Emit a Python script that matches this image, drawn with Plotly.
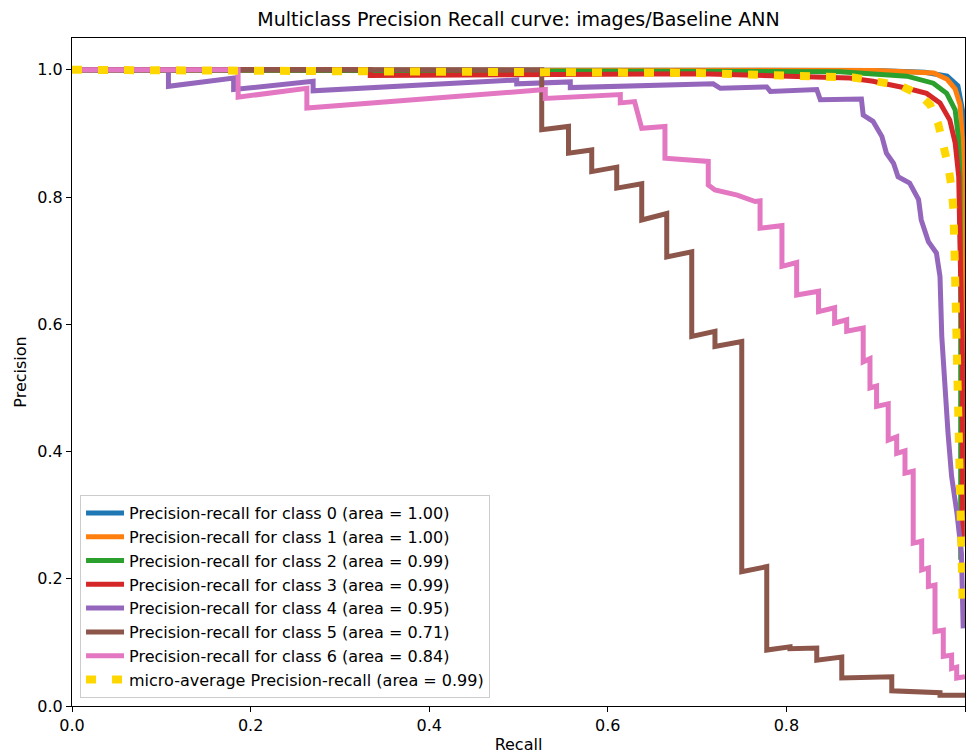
import plotly.graph_objects as go

# ---------------- data ----------------
labels = [
    "Precision-recall for class 0 (area = 1.00)",
    "Precision-recall for class 1 (area = 1.00)",
    "Precision-recall for class 2 (area = 0.99)",
    "Precision-recall for class 3 (area = 0.99)",
    "Precision-recall for class 4 (area = 0.95)",
    "Precision-recall for class 5 (area = 0.71)",
    "Precision-recall for class 6 (area = 0.84)",
]
micro_label = "micro-average Precision-recall (area = 0.99)"

recall_0 = [0.0, 0.90, 0.955, 0.980, 0.992, 0.998, 1.0, 1.0]
precision_0 = [1.0, 0.999, 0.996, 0.990, 0.975, 0.930, 0.80, 0.30]

recall_1 = [0.0, 0.90, 0.965, 0.980, 0.989, 0.9945, 0.997, 0.998, 1.0]
precision_1 = [1.0, 0.999, 0.995, 0.985, 0.970, 0.945, 0.890, 0.660, 0.30]

recall_2 = [0.0, 0.50, 0.860, 0.935, 0.9645, 0.9795, 0.989, 0.9925, 0.9944, 0.9952, 0.9952]
precision_2 = [1.0, 0.999, 0.997, 0.990, 0.979, 0.963, 0.937, 0.895, 0.832, 0.659, 0.23]

recall_3 = [0.0, 0.334, 0.334, 0.703, 0.871, 0.897, 0.935, 0.957, 0.972, 0.983, 0.989,
            0.993, 0.994, 0.996, 0.997, 0.997]
precision_3 = [1.0, 1.0, 0.991, 0.994, 0.987, 0.982, 0.971, 0.963, 0.948, 0.921, 0.885,
               0.832, 0.754, 0.654, 0.544, 0.253]

recall_4 = [0.0, 0.108, 0.108, 0.181, 0.181, 0.270, 0.270, 0.498, 0.498, 0.558, 0.558,
            0.718, 0.726, 0.778, 0.782, 0.834, 0.838, 0.884, 0.886, 0.897, 0.907, 0.912,
            0.920, 0.925, 0.938, 0.948, 0.951, 0.959, 0.968, 0.972, 0.974, 0.978, 0.981,
            0.985, 0.991, 0.996, 0.998]
precision_4 = [1.0, 1.0, 0.974, 0.987, 0.969, 0.982, 0.967, 0.984, 0.978, 0.981, 0.972,
               0.978, 0.971, 0.973, 0.966, 0.969, 0.953, 0.954, 0.929, 0.919, 0.895, 0.869,
               0.853, 0.832, 0.822, 0.796, 0.764, 0.730, 0.712, 0.675, 0.581, 0.486, 0.429,
               0.361, 0.303, 0.240, 0.122]

recall_5 = [0.0, 0.526, 0.526, 0.556, 0.556, 0.582, 0.582, 0.610, 0.610, 0.638, 0.638,
            0.666, 0.666, 0.694, 0.694, 0.720, 0.720, 0.750, 0.750, 0.778, 0.778, 0.804,
            0.804, 0.834, 0.834, 0.862, 0.862, 0.918, 0.918, 0.972, 0.972, 1.0]
precision_5 = [1.0, 1.0, 0.906, 0.911, 0.869, 0.874, 0.840, 0.847, 0.814, 0.821, 0.764,
               0.774, 0.706, 0.714, 0.581, 0.589, 0.565, 0.573, 0.211, 0.219, 0.088, 0.093,
               0.090, 0.091, 0.072, 0.077, 0.044, 0.046, 0.024, 0.021, 0.017, 0.017]

recall_6 = [0.0, 0.186, 0.186, 0.263, 0.263, 0.530, 0.530, 0.614, 0.614, 0.630, 0.638,
            0.664, 0.664, 0.7125, 0.7125, 0.720, 0.745, 0.765, 0.7705, 0.7705, 0.795, 0.795,
            0.8115, 0.8115, 0.836, 0.836, 0.854, 0.854, 0.8675, 0.8675, 0.886, 0.886, 0.8936,
            0.8936, 0.901, 0.901, 0.914, 0.914, 0.9235, 0.9235, 0.9328, 0.9328, 0.942, 0.942,
            0.9515, 0.9515, 0.959, 0.959, 0.9664, 0.9664, 0.9757, 0.9757, 0.985, 0.985, 0.9907,
            0.9907, 1.0]
precision_6 = [1.0, 1.0, 0.957, 0.971, 0.940, 0.969, 0.955, 0.961, 0.948, 0.950, 0.908,
               0.911, 0.861, 0.856, 0.819, 0.811, 0.803, 0.793, 0.794, 0.751, 0.755, 0.691,
               0.697, 0.646, 0.652, 0.620, 0.626, 0.602, 0.607, 0.589, 0.594, 0.541, 0.546,
               0.500, 0.503, 0.471, 0.475, 0.418, 0.423, 0.397, 0.401, 0.366, 0.369, 0.256,
               0.259, 0.214, 0.217, 0.188, 0.190, 0.117, 0.119, 0.078, 0.080, 0.059, 0.061,
               0.044, 0.046]

recall_micro = [0.0, 0.30, 0.70, 0.875, 0.905, 0.928, 0.950, 0.961, 0.970, 0.976, 0.981,
                0.985, 0.987, 0.9885, 0.990, 0.992, 0.995, 0.9975]
precision_micro = [1.0, 0.998, 0.995, 0.988, 0.982, 0.975, 0.960, 0.945, 0.915, 0.885, 0.850,
                   0.815, 0.780, 0.700, 0.590, 0.500, 0.350, 0.156]

x_ticks = [0.0, 0.2, 0.4, 0.6, 0.8, 1.0]
y_ticks = [0.0, 0.2, 0.4, 0.6, 0.8, 1.0]

# ---------------- figure ----------------
colors = ["#1f77b4", "#ff7f0e", "#2ca02c", "#d62728", "#9467bd", "#8c564b", "#e377c2"]
recalls = [recall_0, recall_1, recall_2, recall_3, recall_4, recall_5, recall_6]
precisions = [precision_0, precision_1, precision_2, precision_3, precision_4, precision_5, precision_6]

fig = go.Figure()
for i in range(7):
    fig.add_trace(go.Scatter(
        x=recalls[i], y=precisions[i], mode="lines", name=labels[i],
        legendgroup=f"g{i}",
        line=dict(color=colors[i], width=5),
    ))
fig.add_trace(go.Scatter(
    x=recall_micro, y=precision_micro, mode="lines", name=micro_label,
    legendgroup="gm",
    line=dict(color="#ffd700", width=8, dash="10px,16px"),
))

# the page adds an 8px body margin, so the figure is 8px smaller and margins shifted
W, H = 969, 746
L, R, T, B = 64, 12, 30, 48
font_family = "DejaVu Sans"
fig.update_layout(
    width=W, height=H,
    margin=dict(l=L, r=R, t=T, b=B, autoexpand=False),
    paper_bgcolor="white", plot_bgcolor="white",
    font=dict(family=font_family, size=16, color="black"),
    title=dict(text="Multiclass Precision Recall curve: images/Baseline ANN",
               x=(L + (W - R)) / 2 / W, xanchor="center", y=1 - 11 / H, yanchor="middle",
               font=dict(size=19, color="black")),
    showlegend=True,
    legend=dict(x=0.009, y=0.012, xanchor="left", yanchor="bottom",
                bgcolor="rgba(255,255,255,0.8)", bordercolor="#cccccc", borderwidth=1,
                font=dict(size=16, color="black"), traceorder="grouped", tracegroupgap=0,
                itemwidth=38),
)
fig.update_xaxes(range=[0, 1.0], tickvals=x_ticks, ticktext=[f"{v:.1f}" for v in x_ticks],
                 automargin=False,
                 showgrid=False, zeroline=False, showline=True, mirror=True,
                 linecolor="black", linewidth=1, ticks="outside", ticklen=5,
                 tickcolor="black",
                 title=dict(text="Recall", standoff=4, font=dict(size=16)))
fig.update_yaxes(range=[0, 1.05], tickvals=y_ticks, ticktext=[f"{v:.1f}" for v in y_ticks],
                 automargin=False,
                 showgrid=False, zeroline=False, showline=True, mirror=True,
                 linecolor="black", linewidth=1, ticks="outside", ticklen=5,
                 tickcolor="black",
                 title=dict(text="Precision", standoff=6, font=dict(size=16)))

fig.write_html("out.html")
